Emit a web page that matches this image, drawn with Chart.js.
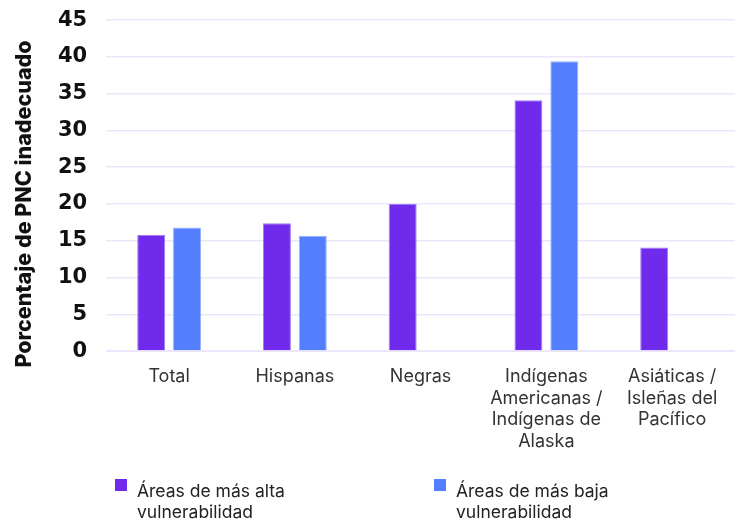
<!DOCTYPE html>
<html lang="es">
<head>
<meta charset="utf-8"/>
<title>PNC inadecuado</title>
<script src="https://cdn.jsdelivr.net/npm/chart.js"></script>
<style>
  body { margin: 0; background: #fff; }
  #grafico { display: block; }
</style>
</head>
<body>
<canvas id="grafico" width="742" height="520"></canvas>
<script>
// datos
var categorias = [
  "Total",
  "Hispanas",
  "Negras",
  ["Indígenas", "Americanas /", "Indígenas de", "Alaska"],
  ["Asiáticas /", "Isleñas del", "Pacífico"]
];
var altaVulnerabilidad = [15.8, 17.4, 20.0, 34.1, 14.1];
var bajaVulnerabilidad = [16.8, 15.7, null, 39.4, null];
var etiquetasSeries = [
  ["Áreas de más alta", "vulnerabilidad"],
  ["Áreas de más baja", "vulnerabilidad"]
];
var tituloEjeY = "Porcentaje de PNC inadecuado";

var morado = "#6F2AEB";
var azul = "#537FFF";

// leyenda dibujada abajo, con textos en dos líneas
var leyendaAbajo = {
  id: "leyendaAbajo",
  afterDraw: function (chart) {
    var ctx = chart.ctx;
    var posX = [115, 434];
    ctx.save();
    ctx.font = "17.5px Inter";
    ctx.textBaseline = "alphabetic";
    chart.data.datasets.forEach(function (ds, i) {
      ctx.fillStyle = ds.backgroundColor;
      ctx.fillRect(posX[i], 479, 12, 12);
      ctx.fillStyle = "#222";
      etiquetasSeries[i].forEach(function (linea, j) {
        ctx.fillText(linea, posX[i] + 22, 497 + j * 21);
      });
    });
    ctx.restore();
  }
};

// título del eje Y, un poco por debajo del centro como en el original
var tituloY = {
  id: "tituloY",
  afterDraw: function (chart) {
    var ctx = chart.ctx;
    ctx.save();
    ctx.translate(25, 204);
    ctx.rotate(-Math.PI / 2);
    ctx.font = "800 21.5px Inter";
    ctx.fillStyle = "#111";
    ctx.textAlign = "center";
    ctx.textBaseline = "middle";
    ctx.fillText(tituloEjeY, 0, 0);
    ctx.restore();
  }
};

new Chart(document.getElementById("grafico"), {
  type: "bar",
  data: {
    labels: categorias,
    datasets: [
      {
        label: etiquetasSeries[0].join(" "),
        data: altaVulnerabilidad,
        backgroundColor: morado,
        borderColor: "rgba(150,110,245,0.9)",
        borderWidth: 1,
        categoryPercentage: 0.57,
        barPercentage: 0.78
      },
      {
        label: etiquetasSeries[1].join(" "),
        data: bajaVulnerabilidad,
        backgroundColor: azul,
        borderColor: "rgba(140,170,255,0.9)",
        borderWidth: 1,
        categoryPercentage: 0.57,
        barPercentage: 0.78
      }
    ]
  },
  options: {
    responsive: false,
    animation: false,
    layout: { padding: { top: 0, right: 7, bottom: 61, left: 39 } },
    plugins: {
      legend: { display: false },
      tooltip: { enabled: false }
    },
    scales: {
      x: {
        grid: { display: false },
        border: { display: false },
        ticks: {
          color: "#333",
          font: { family: "Inter", size: 18, lineHeight: 1.22 },
          maxRotation: 0,
          autoSkip: false,
          padding: 6
        }
      },
      y: {
        min: 0,
        max: 45,
        border: { display: false },
        grid: {
          color: "#ECE6FB",
          lineWidth: function (c) { return c.tick && c.tick.value === 0 ? 2 : 1.5; },
          drawTicks: false
        },
        ticks: {
          stepSize: 5,
          color: "#111",
          padding: 19,
          font: { family: "DejaVu Sans", size: 21, weight: "bold", lineHeight: 0.1 }
        }
      }
    }
  },
  plugins: [leyendaAbajo, tituloY]
});
</script>
</body>
</html>
